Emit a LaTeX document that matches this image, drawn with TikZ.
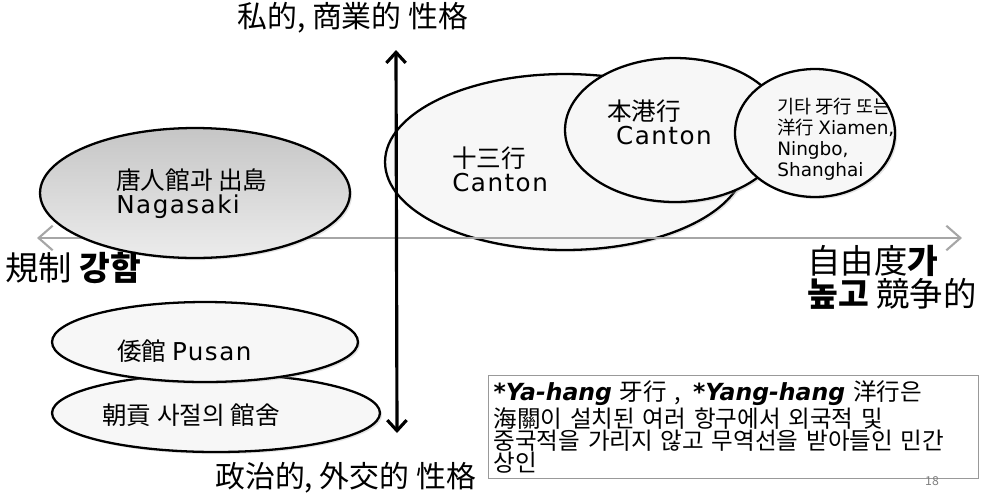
\documentclass[tikz,border=0pt]{standalone}
\usepackage{fontspec}
\setmainfont{Noto Sans CJK KR}
\newfontfamily\latfont{DejaVu Sans}[LetterSpace=6.0]
\newfontfamily\notelat{DejaVu Sans}
\usetikzlibrary{shapes.geometric,arrows.meta,shadows}
\newcommand{\lt}[1]{{\latfont #1}}
\newcommand{\bi}[1]{{\notelat\bfseries\itshape #1}}
\tikzset{
  blob/.style={ellipse,draw=black,line width=1.3pt,fill=gray!6,inner sep=0pt,
    drop shadow={shadow xshift=1.2pt,shadow yshift=-1.2pt,fill=gray!60,opacity=0.35}},
  blobtext/.style={anchor=west,align=left,inner sep=0pt,font=\fontsize{14}{13.5}\selectfont},
  axlabel/.style={anchor=west,align=left,inner sep=0pt}
}
\begin{document}
\begin{tikzpicture}[x=0.02cm,y=-0.02cm]
\useasboundingbox (0,0) rectangle (985,495);
% free trade side
\node[blob,minimum width=7.2cm,minimum height=3.52cm] (hang13) at (565,162) {};
\node[blob,minimum width=4.4cm,minimum height=2.88cm] (benhang) at (675,130) {};
\node[blob,minimum width=3.2cm,minimum height=2.56cm] (otherhang) at (815,133) {};
\node[blobtext] (hang13txt) at (452,169) {十三行\\\lt{Canton}};
\node[blobtext] (benhangtxt) at (607,122) {本港行\\\hspace{5pt}\lt{Canton}};
\node[blobtext,font=\fontsize{10.5}{11.9}\selectfont] (othertxt) at (777,139)
  {기타 牙行 또는\\洋行 {\notelat Xiamen,}\\{\notelat Ningbo,}\\{\notelat Shanghai}};
% axes
\coordinate (ytop) at (396,50);
\coordinate (ybot) at (397,433);
\coordinate (xleft) at (37,238);
\coordinate (xright) at (962,238);
\draw[gray!70,line width=1.6pt,{Straight Barb[length=8pt,width=14pt,line width=1.2pt]}-{Straight Barb[length=8pt,width=14pt,line width=1.2pt]}] (xleft) -- (xright);
\draw[black,line width=1.8pt,{Straight Barb[length=6pt,width=11pt]}-{Straight Barb[length=6pt,width=11pt]}] (ybot) -- (ytop);
% regulated side
\node[blob,top color=gray!45,bottom color=gray!15,minimum width=6.2cm,minimum height=2.6cm] (nagasaki) at (195,193) {};
\node[blobtext] (nagasakitxt) at (116,194) {唐人館과 出島\\\lt{Nagasaki}};
\node[blob,minimum width=6.56cm,minimum height=1.56cm] (choggong) at (216,413) {};
\node[blob,minimum width=6.12cm,minimum height=1.6cm] (waegwan) at (205,342) {};
\node[blobtext] (waegwantxt) at (117,351) {倭館 \lt{Pusan}};
\node[blobtext] (choggongtxt) at (102,415) {朝貢 사절의 館舍};
% axis labels
\node[axlabel,font=\fontsize{17}{17}\selectfont] (private) at (237,18) {私的, 商業的 性格};
\node[axlabel,font=\fontsize{17}{17}\selectfont] (political) at (215,478) {政治的, 外交的 性格};
\node[axlabel,font=\fontsize{19}{19}\selectfont] (regulated) at (5,268) {規制 \textbf{강함}};
\node[axlabel,font=\fontsize{19}{16.5}\selectfont] (free) at (807,277) {自由度\textbf{가}\\\textbf{높고} 競争的};
% note
\node[draw=gray!80,line width=0.6pt,anchor=north west,minimum width=9.8cm,minimum height=2.06cm,
  text width=9.6cm,align=left,inner sep=0.1cm,font=\fontsize{13.4}{12.6}\selectfont] (note) at (488,375)
  {\bi{*Ya-hang} 牙行 ,\enspace\bi{*Yang-hang} 洋行은\\
   海關이 설치된 여러 항구에서 외국적 및\\
   중국적을 가리지 않고 무역선을 받아들인 민간\\
   상인};
\node[text=gray,font=\fontsize{7}{7}\selectfont,inner sep=0pt] (pageno) at (932,481) {18};
\end{tikzpicture}
\end{document}
